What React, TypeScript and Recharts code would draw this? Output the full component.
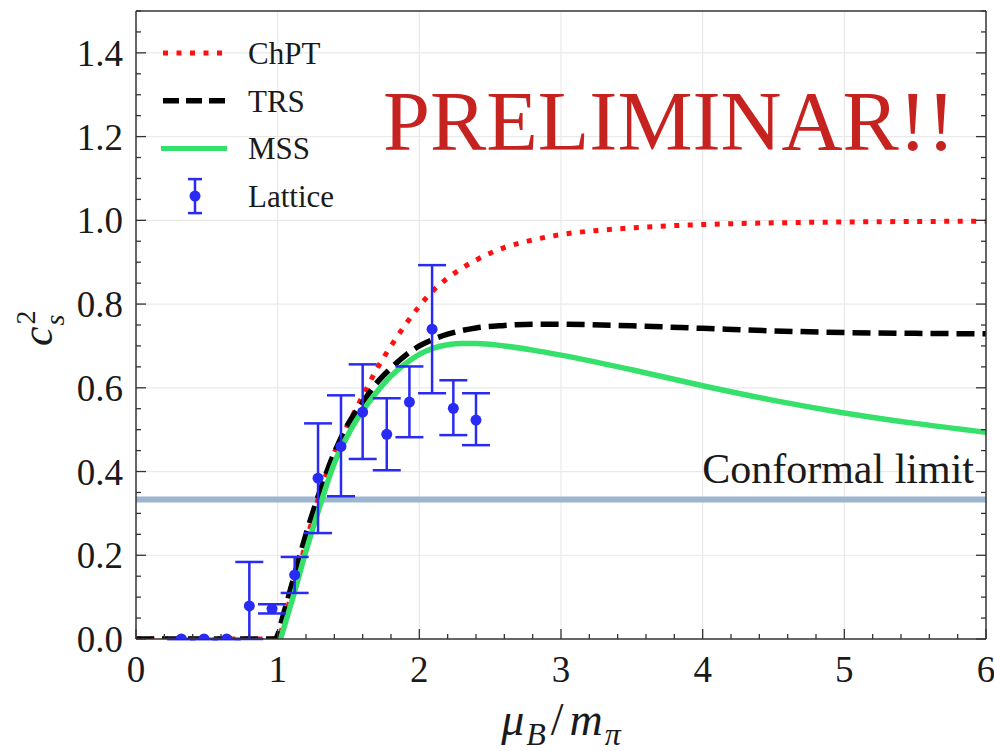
import React from 'react';
import {
  ComposedChart,
  Line,
  Scatter,
  ErrorBar,
  XAxis,
  YAxis,
  ReferenceLine,
  Legend,
} from 'recharts';

const SERIF = '"Liberation Serif", "DejaVu Serif", serif';
const AXIS = '#333333';
const GRID = '#e9e9e9';
const RED = '#ff1010';
const GREEN = '#35e06b';
const BLUE = '#2a2af5';
const BAND = '#9db6cf';
const serif = { fontFamily: SERIF };

// ChPT (red dotted)
const chptX = [0, 1.0, 1.05, 1.1, 1.2, 1.3, 1.4, 1.5, 1.6, 1.7, 1.8, 1.9, 2.0, 2.1, 2.2, 2.4, 2.6, 2.8, 3.0, 3.3, 3.6, 4.0, 4.5, 5.0, 6.0];
const chptY = [0, 0, 0.05, 0.11, 0.23, 0.35, 0.445, 0.515, 0.58, 0.645, 0.70, 0.75, 0.795, 0.833, 0.862, 0.905, 0.935, 0.953, 0.966, 0.977, 0.984, 0.99, 0.994, 0.996, 0.998];

// TRS (black dashed)
const trsX = [0, 0.98, 1.05, 1.1, 1.2, 1.3, 1.4, 1.5, 1.6, 1.7, 1.8, 1.9, 2.0, 2.1, 2.2, 2.4, 2.6, 2.8, 3.0, 3.5, 4.0, 4.5, 5.0, 5.5, 6.0];
const trsY = [0, 0, 0.07, 0.13, 0.25, 0.355, 0.445, 0.515, 0.565, 0.612, 0.647, 0.677, 0.70, 0.716, 0.728, 0.743, 0.749, 0.752, 0.752, 0.748, 0.742, 0.736, 0.732, 0.730, 0.729];

// MSS (green solid)
const mssX = [1.02, 1.1, 1.2, 1.3, 1.4, 1.5, 1.6, 1.7, 1.8, 1.9, 2.0, 2.1, 2.2, 2.3, 2.4, 2.6, 2.8, 3.0, 3.5, 4.0, 4.5, 5.0, 5.5, 6.0];
const mssY = [0, 0.09, 0.21, 0.32, 0.42, 0.49, 0.545, 0.59, 0.628, 0.657, 0.68, 0.695, 0.703, 0.706, 0.706, 0.70, 0.69, 0.678, 0.643, 0.605, 0.57, 0.54, 0.515, 0.494];

// Lattice points with error bars
const latticeX = [0.32, 0.48, 0.64, 0.80, 0.96, 1.12, 1.285, 1.447, 1.60, 1.77, 1.93, 2.09, 2.24, 2.40];
const latticeY = [0, 0, 0, 0.079, 0.072, 0.153, 0.384, 0.46, 0.542, 0.489, 0.566, 0.74, 0.551, 0.523];
const latticeErrLo = [0, 0, 0, 0.079, 0.011, 0.043, 0.131, 0.119, 0.112, 0.086, 0.084, 0.153, 0.064, 0.06];
const latticeErrHi = [0, 0, 0, 0.105, 0.011, 0.043, 0.131, 0.122, 0.114, 0.086, 0.085, 0.153, 0.067, 0.064];

const conformalLimit = 1 / 3;

const xMajor = [0, 1, 2, 3, 4, 5, 6];
const xMinor = [0, 0.2, 0.4, 0.6, 0.8, 1, 1.2, 1.4, 1.6, 1.8, 2, 2.2, 2.4, 2.6, 2.8, 3, 3.2, 3.4, 3.6, 3.8, 4, 4.2, 4.4, 4.6, 4.8, 5, 5.2, 5.4, 5.6, 5.8, 6];
const yMajor = [0, 0.2, 0.4, 0.6, 0.8, 1.0, 1.2, 1.4];
const yMinor = [0, 0.05, 0.1, 0.15, 0.2, 0.25, 0.3, 0.35, 0.4, 0.45, 0.5, 0.55, 0.6, 0.65, 0.7, 0.75, 0.8, 0.85, 0.9, 0.95, 1.0, 1.05, 1.1, 1.15, 1.2, 1.25, 1.3, 1.35, 1.4, 1.45, 1.5];
const xGrid = [1, 2, 3, 4, 5];
const yGrid = [0.2, 0.4, 0.6, 0.8, 1.0, 1.2, 1.4];

const legendLabels = ['ChPT', 'TRS', 'MSS', 'Lattice'];

const toPts = (xs: number[], ys: number[]) => xs.map((x, i) => ({ x, y: ys[i] }));
const chptData = toPts(chptX, chptY);
const trsData = toPts(trsX, trsY);
const mssData = toPts(mssX, mssY);
const latticeData = latticeX.map((x, i) => ({
  x,
  y: latticeY[i],
  err: [latticeErrLo[i], latticeErrHi[i]],
}));

const isMajor = (list: number[], v: number) => list.some((m) => Math.abs(m - v) < 1e-6);

const BottomTick = (props: any) => {
  const { x, y, payload } = props;
  const major = isMajor(xMajor, payload.value);
  return (
    <g>
      <line x1={x} y1={y} x2={x} y2={y - (major ? 10 : 5)} stroke={AXIS} strokeWidth={1.3} />
      {major && (
        <text x={x} y={y + 43} textAnchor="middle" fontSize={37} style={serif} fill="#1a1a1a">
          {payload.value}
        </text>
      )}
    </g>
  );
};

const TopTick = (props: any) => {
  const { x, y, payload } = props;
  const major = isMajor(xMajor, payload.value);
  return <line x1={x} y1={y} x2={x} y2={y + (major ? 10 : 5)} stroke={AXIS} strokeWidth={1.3} />;
};

const LeftTick = (props: any) => {
  const { x, y, payload } = props;
  const major = isMajor(yMajor, payload.value);
  return (
    <g>
      <line x1={x} y1={y} x2={x + (major ? 10 : 5)} y2={y} stroke={AXIS} strokeWidth={1.3} />
      {major && (
        <text x={x - 13} y={y + 13} textAnchor="end" fontSize={37} style={serif} fill="#1a1a1a">
          {Number(payload.value).toFixed(1)}
        </text>
      )}
    </g>
  );
};

const RightTick = (props: any) => {
  const { x, y, payload } = props;
  const major = isMajor(yMajor, payload.value);
  return <line x1={x} y1={y} x2={x - (major ? 10 : 5)} y2={y} stroke={AXIS} strokeWidth={1.3} />;
};

const XLabel = (props: any) => {
  const vb = props.viewBox || {};
  const cx = vb.x + vb.width / 2;
  return (
    <text x={cx} y={vb.y + 96} textAnchor="middle" style={serif} fontStyle="italic" fontSize={46} fill="#1a1a1a">
      μ
      <tspan dx={2} dy={10} fontSize={32}>B</tspan>
      <tspan dx={5} dy={-10} fontSize={46} fontStyle="normal">/</tspan>
      <tspan dx={6} fontSize={46}>m</tspan>
      <tspan dx={2} dy={10} fontSize={32}>π</tspan>
    </text>
  );
};

const YLabel = () => (
  <g transform="translate(52,346) rotate(-90)">
    <text x={0} y={0} style={serif} fontStyle="italic" fontSize={44} fill="#1a1a1a">
      c
      <tspan dx={1} dy={12} fontSize={28}>s</tspan>
      <tspan dx={-10} dy={-29} fontSize={28} fontStyle="normal">2</tspan>
    </text>
  </g>
);

const ConformalLabel = (props: any) => {
  const vb = props.viewBox || {};
  return (
    <text x={vb.x + vb.width - 12} y={vb.y - 16} textAnchor="end" style={serif} fontSize={42} fill="#1a1a1a">
      Conformal limit
    </text>
  );
};

const LegendBox = () => (
  <svg width={230} height={200}>
    {legendLabels.map((label, i) => {
      const cy = 28 + i * 47.7;
      let sample: React.ReactNode = null;
      if (i === 0) sample = <line x1={13} x2={74} y1={cy} y2={cy} stroke={RED} strokeWidth={5} strokeDasharray="5 8.5" />;
      if (i === 1) sample = <line x1={13} x2={76} y1={cy} y2={cy} stroke="#000" strokeWidth={5.5} strokeDasharray="16 7" />;
      if (i === 2) sample = <line x1={11} x2={77} y1={cy} y2={cy} stroke={GREEN} strokeWidth={5} />;
      if (i === 3)
        sample = (
          <g stroke={BLUE} strokeWidth={2.5}>
            <line x1={45} x2={45} y1={cy - 17} y2={cy + 17} />
            <line x1={38} x2={52} y1={cy - 17} y2={cy - 17} />
            <line x1={38} x2={52} y1={cy + 17} y2={cy + 17} />
            <circle cx={45} cy={cy} r={5.5} fill={BLUE} stroke="none" />
          </g>
        );
      return (
        <g key={label}>
          {sample}
          <text x={98} y={cy + 11} style={serif} fontSize={31} fill="#1a1a1a">
            {label}
          </text>
        </g>
      );
    })}
  </svg>
);

const LatticeDot = (props: any) => <circle cx={props.cx} cy={props.cy} r={5.5} fill={BLUE} />;

export default function App() {
  return (
    <div style={{ position: 'absolute', left: 0, top: 0, width: 994, height: 751, background: '#fff' }}>
      <ComposedChart width={994} height={751} margin={{ top: 10, right: 7, bottom: 111, left: 135 }}>
        <XAxis
          xAxisId="b"
          dataKey="x"
          type="number"
          orientation="bottom"
          domain={[0, 6]}
          allowDataOverflow
          ticks={xMinor}
          interval={0}
          height={1}
          tickSize={0}
          tickMargin={0}
          tickLine={false}
          tick={<BottomTick />}
          axisLine={{ stroke: AXIS, strokeWidth: 1.5 }}
          label={<XLabel />}
        />
        <XAxis
          xAxisId="t"
          type="number"
          orientation="top"
          domain={[0, 6]}
          allowDataOverflow
          ticks={xMinor}
          interval={0}
          height={1}
          tickSize={0}
          tickMargin={0}
          tickLine={false}
          tick={<TopTick />}
          axisLine={{ stroke: AXIS, strokeWidth: 1.5 }}
        />
        <YAxis
          yAxisId="l"
          dataKey="y"
          type="number"
          orientation="left"
          domain={[0, 1.5]}
          allowDataOverflow
          ticks={yMinor}
          interval={0}
          width={1}
          tickSize={0}
          tickMargin={0}
          tickLine={false}
          tick={<LeftTick />}
          axisLine={{ stroke: AXIS, strokeWidth: 1.5 }}
          label={<YLabel />}
        />
        <YAxis
          yAxisId="r"
          type="number"
          orientation="right"
          domain={[0, 1.5]}
          allowDataOverflow
          ticks={yMinor}
          interval={0}
          width={1}
          tickSize={0}
          tickMargin={0}
          tickLine={false}
          tick={<RightTick />}
          axisLine={{ stroke: AXIS, strokeWidth: 1.5 }}
        />

        {xGrid.map((v) => (
          <ReferenceLine key={`gx${v}`} x={v} xAxisId="b" yAxisId="l" stroke={GRID} strokeWidth={1.2} />
        ))}
        {yGrid.map((v) => (
          <ReferenceLine key={`gy${v}`} y={v} xAxisId="b" yAxisId="l" stroke={GRID} strokeWidth={1.2} />
        ))}

        <ReferenceLine
          y={conformalLimit}
          xAxisId="b"
          yAxisId="l"
          stroke={BAND}
          strokeWidth={6}
          label={<ConformalLabel />}
        />

        <Line
          data={chptData}
          xAxisId="b"
          yAxisId="l"
          dataKey="y"
          type="monotone"
          stroke={RED}
          strokeWidth={5}
          strokeDasharray="5 8.5"
          dot={false}
          activeDot={false}
          isAnimationActive={false}
        />
        <Line
          data={trsData}
          xAxisId="b"
          yAxisId="l"
          dataKey="y"
          type="monotone"
          stroke="#000"
          strokeWidth={5.5}
          strokeDasharray="18 8"
          dot={false}
          activeDot={false}
          isAnimationActive={false}
        />
        <Line
          data={mssData}
          xAxisId="b"
          yAxisId="l"
          dataKey="y"
          type="monotone"
          stroke={GREEN}
          strokeWidth={5.5}
          dot={false}
          activeDot={false}
          isAnimationActive={false}
        />
        <Scatter
          data={latticeData}
          xAxisId="b"
          yAxisId="l"
          dataKey="y"
          fill={BLUE}
          shape={<LatticeDot />}
          isAnimationActive={false}
        >
          <ErrorBar dataKey="err" direction="y" width={14} stroke={BLUE} strokeWidth={2.5} isAnimationActive={false} />
        </Scatter>

        <Legend
          layout="vertical"
          align="center"
          verticalAlign="middle"
          content={<LegendBox />}
          wrapperStyle={{ left: 150, top: 25, width: 230, height: 200 }}
        />
      </ComposedChart>
      <svg
        width={994}
        height={751}
        style={{ position: 'absolute', left: 0, top: 0, pointerEvents: 'none' }}
      >
        <text
          x={383}
          y={150}
          style={serif}
          fontSize={84}
          fill="#c62220"
          textLength={572}
          lengthAdjust="spacingAndGlyphs"
        >
          PRELIMINAR!!
        </text>
      </svg>
    </div>
  );
}
